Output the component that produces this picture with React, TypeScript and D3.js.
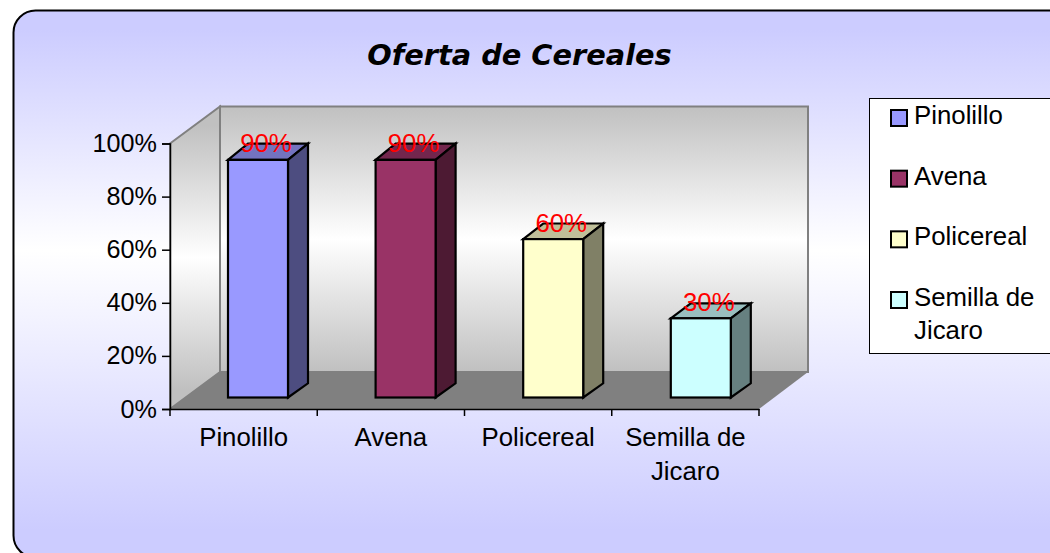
import React, { useEffect, useRef } from 'react';
import * as d3 from 'd3';

const categories = ['Pinolillo', 'Avena', 'Policereal', 'Semilla de Jicaro'];
const values = [90, 90, 60, 30];
const colors = ['#9999FF', '#993366', '#FFFFCC', '#CCFFFF'];
const yTicks = [0, 20, 40, 60, 80, 100];
const title = 'Oferta de Cereales';

const FONT = '"Liberation Sans", Arial, sans-serif';
const FS = 25.8;

const shade = (c: string, f: number) => {
  const r = d3.rgb(c);
  return d3.rgb(r.r * f, r.g * f, r.b * f).formatHex();
};

const wrapLabel = (s: string) => (s === 'Semilla de Jicaro' ? ['Semilla de', 'Jicaro'] : [s]);

const App = () => {
  const ref = useRef<SVGSVGElement | null>(null);

  useEffect(() => {
    if (!ref.current) return;
    const svg = d3.select(ref.current);
    svg.selectAll('*').remove();

    const defs = svg.append('defs');
    const grad = (id: string, y1: number, y2: number, stops: [number, string][]) => {
      const g = defs.append('linearGradient').attr('id', id)
        .attr('gradientUnits', 'userSpaceOnUse')
        .attr('x1', 0).attr('x2', 0).attr('y1', y1).attr('y2', y2);
      stops.forEach(([o, c]) => g.append('stop').attr('offset', o).attr('stop-color', c));
    };
    grad('bg', 30, 530, [[0, '#CCCCFF'], [0.44, '#FFFFFF'], [1, '#CCCCFF']]);
    grad('wall', 106, 372, [[0, '#C0C0C0'], [0.5, '#FFFFFF'], [1, '#C0C0C0']]);
    grad('sideWall', 125, 390, [[0, '#C0C0C0'], [0.5, '#FFFFFF'], [1, '#C0C0C0']]);

    // outer panel, runs off the right and bottom edges
    svg.append('rect')
      .attr('x', 13.5).attr('y', 10.5).attr('width', 1100).attr('height', 547)
      .attr('rx', 22).attr('ry', 22)
      .attr('fill', 'url(#bg)').attr('stroke', '#000').attr('stroke-width', 2);

    svg.append('text')
      .attr('x', 519.5).attr('y', 65).attr('text-anchor', 'middle')
      .attr('font-family', '"DejaVu Sans", Verdana, sans-serif')
      .attr('font-size', 28.8).attr('font-weight', 'bold').attr('font-style', 'italic')
      .attr('fill', '#000').text(title);

    const xBand = d3.scaleBand<string>().domain(categories).range([170, 759]);
    const xBars = d3.scaleBand<string>().domain(categories).range([228, 818.4]);
    const y = d3.scaleLinear().domain([0, 100]).range([409, 143.5]);
    const yFront = d3.scaleLinear().domain([0, 100]).range([397.5, 133.5]);
    const yBack = d3.scaleLinear().domain([0, 100]).range([383.3, 117]);
    const wallDx = 50;
    const wallDy = 37;
    const barW = 60;
    const barDx = 20;

    const poly = (pts: [number, number][]) => d3.line()(pts) + 'Z';
    const x0 = xBand.range()[0];
    const x1 = xBand.range()[1];

    // walls + floor
    svg.append('path')
      .attr('d', poly([[x0, y(100)], [x0 + wallDx, y(100) - wallDy], [x0 + wallDx, y(0) - wallDy], [x0, y(0)]]))
      .attr('fill', 'url(#sideWall)').attr('stroke', '#808080').attr('stroke-width', 2);
    svg.append('rect')
      .attr('x', x0 + wallDx).attr('y', y(100) - wallDy)
      .attr('width', x1 - x0 - 1).attr('height', y(0) - y(100))
      .attr('fill', 'url(#wall)').attr('stroke', '#808080').attr('stroke-width', 2);
    svg.append('path')
      .attr('d', poly([[x0, y(0)], [x0 + wallDx, y(0) - wallDy], [x1 + wallDx - 1, y(0) - wallDy], [x1, y(0)]]))
      .attr('fill', '#808080');

    // bars
    const bars = svg.selectAll('.bar').data(categories).enter().append('g').attr('class', 'bar');
    const left = (d: string) => xBars(d) as number;
    const val = (i: number) => values[i];
    bars.append('path')
      .attr('d', (d, i) => poly([
        [left(d), yFront(val(i))], [left(d) + barDx, yBack(val(i))],
        [left(d) + barW + barDx, yBack(val(i))], [left(d) + barW, yFront(val(i))],
      ]))
      .attr('fill', (d, i) => shade(colors[i], 0.75));
    bars.append('path')
      .attr('d', (d, i) => poly([
        [left(d) + barW, yFront(val(i))], [left(d) + barW + barDx, yBack(val(i))],
        [left(d) + barW + barDx, yBack(0)], [left(d) + barW, yFront(0)],
      ]))
      .attr('fill', (d, i) => shade(colors[i], 0.5));
    bars.append('rect')
      .attr('x', d => left(d)).attr('y', (d, i) => yFront(val(i)))
      .attr('width', barW).attr('height', (d, i) => yFront(0) - yFront(val(i)))
      .attr('fill', (d, i) => colors[i]);
    bars.selectAll('path,rect')
      .attr('stroke', '#000').attr('stroke-width', 2.2).attr('stroke-linejoin', 'miter');

    // axes
    const yAxis = svg.append('g').attr('transform', `translate(${x0},0)`)
      .call(d3.axisLeft(y).tickValues(yTicks).tickSize(8).tickPadding(5).tickFormat(d => `${d}%`));
    const xAxis = svg.append('g').attr('transform', `translate(0,${y(0)})`)
      .call(d3.axisBottom(xBand).tickSize(0).tickFormat(() => ''));
    xAxis.selectAll('.tick').remove();
    const xTickPos = [...categories.map(c => xBand(c) as number), x1];
    xAxis.selectAll('.xt').data(xTickPos).enter().append('line')
      .attr('class', 'xt').attr('x1', d => d).attr('x2', d => d).attr('y1', 0).attr('y2', 7)
      .attr('stroke', '#000');
    [yAxis, xAxis].forEach(a => {
      a.selectAll('path,line').attr('stroke', '#000').attr('stroke-width', 1.5);
      a.selectAll('text').attr('font-family', FONT).attr('font-size', 25.2).attr('fill', '#000');
    });

    // category labels
    categories.forEach(c => {
      wrapLabel(c).forEach((line, k) => {
        svg.append('text')
          .attr('x', (xBand(c) as number) + xBand.bandwidth() / 2)
          .attr('y', 446 + k * 34)
          .attr('text-anchor', 'middle')
          .attr('font-family', FONT).attr('font-size', FS).text(line);
      });
    });

    // data labels
    svg.selectAll('.val').data(categories).enter().append('text')
      .attr('class', 'val')
      .attr('x', d => left(d) + 38)
      .attr('y', (d, i) => yBack(val(i)) + 8)
      .attr('text-anchor', 'middle')
      .attr('font-family', FONT).attr('font-size', FS).attr('fill', '#FF0000')
      .text((d, i) => `${val(i)}%`);

    // legend
    svg.append('rect')
      .attr('x', 869.5).attr('y', 98.5).attr('width', 300).attr('height', 255)
      .attr('fill', '#fff').attr('stroke', '#000').attr('stroke-width', 1);
    const legendY = d3.scalePoint<string>().domain(categories).range([118, 300]);
    categories.forEach((c, i) => {
      const ly = legendY(c) as number;
      svg.append('rect')
        .attr('x', 891).attr('y', ly - 8).attr('width', 16).attr('height', 16)
        .attr('fill', colors[i]).attr('stroke', '#000').attr('stroke-width', 2);
      wrapLabel(c).forEach((line, k) => {
        svg.append('text')
          .attr('x', 914).attr('y', ly + 6 + k * 33)
          .attr('font-family', FONT).attr('font-size', FS).text(line);
      });
    });
  }, []);

  return (
    <svg
      ref={ref}
      width={1050}
      height={553}
      style={{ position: 'absolute', left: 0, top: 0, background: '#fff' }}
    />
  );
};

export default App;
